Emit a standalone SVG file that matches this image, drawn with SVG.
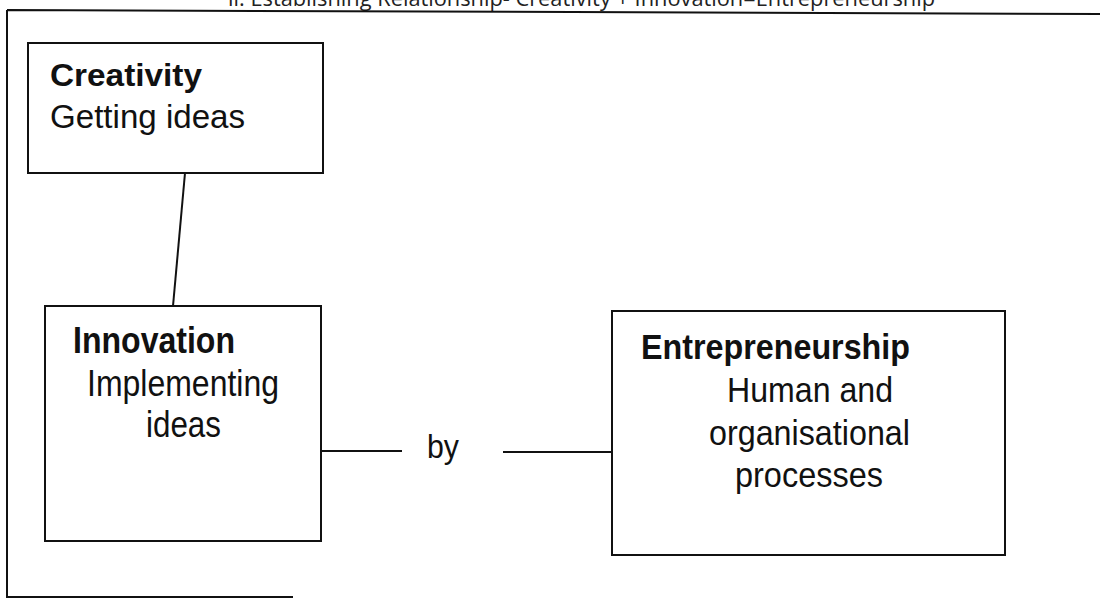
<svg xmlns="http://www.w3.org/2000/svg" width="1100" height="601" viewBox="0 0 1100 601">
<style>
.box{fill:#fff;stroke:#111;stroke-width:2}
.ln{stroke:#111;stroke-width:2;fill:none}
.t{font-family:"Liberation Sans",Arial,sans-serif;fill:#111}
.b{font-weight:bold}
.title{font-family:"Open Sans","Liberation Sans",sans-serif;fill:#222;font-size:21px}
</style>
<rect width="1100" height="601" fill="#fff"/>
<text class="title" x="228" y="6" textLength="707" lengthAdjust="spacingAndGlyphs">ii. Establishing Relationship- Creativity + Innovation=Entrepreneurship</text>
<g id="frame">
<path class="ln" d="M7,10 L1100,14 M7,10 L7,597 L293,597"/>
</g>
<g id="connectors">
<line class="ln" x1="185" y1="173" x2="173" y2="306"/>
<line class="ln" x1="321" y1="451" x2="402" y2="451"/>
<line class="ln" x1="503" y1="452" x2="612" y2="452"/>
<text class="t" x="427" y="458" font-size="33" textLength="32" lengthAdjust="spacingAndGlyphs">by</text>
</g>
<g id="creativity">
<rect class="box" x="28" y="43" width="295" height="130"/>
<text class="t b" x="50" y="86" font-size="31" textLength="152" lengthAdjust="spacingAndGlyphs">Creativity</text>
<text class="t" x="50" y="128" font-size="33" textLength="195" lengthAdjust="spacingAndGlyphs">Getting ideas</text>
</g>
<g id="innovation">
<rect class="box" x="45" y="306" width="276" height="235"/>
<text class="t b" x="73" y="353" font-size="37" textLength="162" lengthAdjust="spacingAndGlyphs">Innovation</text>
<text class="t" x="87" y="396" font-size="37" textLength="192" lengthAdjust="spacingAndGlyphs">Implementing</text>
<text class="t" x="146" y="437" font-size="37" textLength="75" lengthAdjust="spacingAndGlyphs">ideas</text>
</g>
<g id="entrepreneurship">
<rect class="box" x="612" y="311" width="393" height="244"/>
<text class="t b" x="641" y="359" font-size="35" textLength="269" lengthAdjust="spacingAndGlyphs">Entrepreneurship</text>
<text class="t" x="727" y="402" font-size="35" textLength="166" lengthAdjust="spacingAndGlyphs">Human and</text>
<text class="t" x="709" y="445" font-size="35" textLength="201" lengthAdjust="spacingAndGlyphs">organisational</text>
<text class="t" x="735" y="487" font-size="35" textLength="148" lengthAdjust="spacingAndGlyphs">processes</text>
</g>
</svg>
